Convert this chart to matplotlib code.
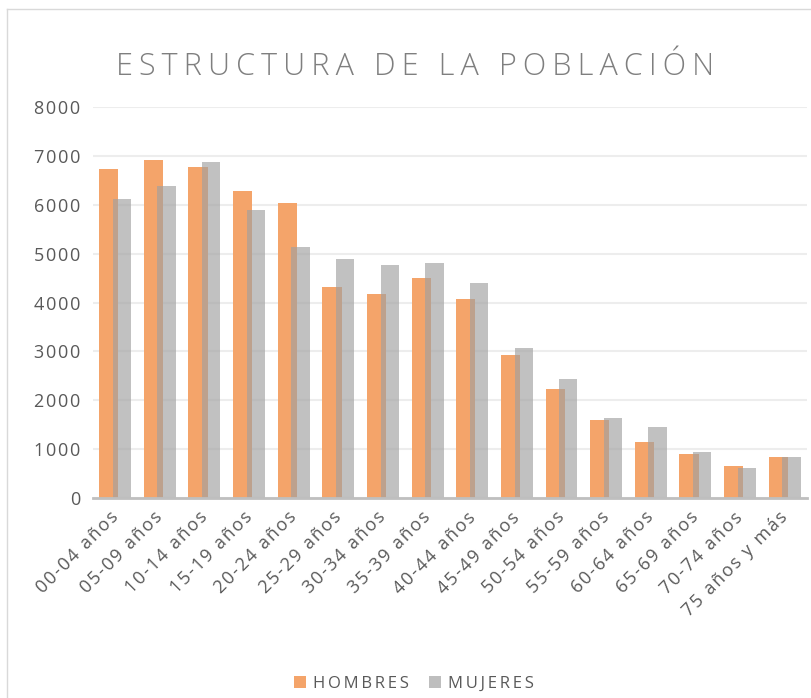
import numpy as np
import matplotlib
matplotlib.use("Agg")
import matplotlib.pyplot as plt
from matplotlib.patches import Patch

# datos
grupos = ["00-04 años", "05-09 años", "10-14 años", "15-19 años", "20-24 años",
          "25-29 años", "30-34 años", "35-39 años", "40-44 años", "45-49 años",
          "50-54 años", "55-59 años", "60-64 años", "65-69 años", "70-74 años",
          "75 años y más"]
hombres = [6735, 6918, 6776, 6286, 6041, 4315, 4172, 4499, 4070, 2924,
           2229, 1595, 1145, 900, 654, 838]
mujeres = [6122, 6388, 6878, 5898, 5133, 4888, 4765, 4806, 4397, 3067,
           2434, 1636, 1452, 941, 613, 838]
yticks = [0, 1000, 2000, 3000, 4000, 5000, 6000, 7000, 8000]
titulo = "ESTRUCTURA DE LA POBLACIÓN"

naranja = "#F4A46A"
gris = "#A0A0A0"
texto = "#595959"

plt.rcParams['font.family'] = ['Open Sans', 'DejaVu Sans']


def espaciado(s, sep="\u200a"):
    # imita el espaciado entre letras del original
    return sep.join(s)


fig = plt.figure(figsize=(8.12, 6.98), dpi=100)
ax = fig.add_axes([0.1145, 0.2865, 0.8795, 0.5602])

x = np.arange(len(grupos))
ax.bar(x - 0.145, hombres, width=0.43, color=naranja, zorder=2)
ax.bar(x + 0.15, mujeres, width=0.41, color=gris, alpha=0.65, zorder=3)

ax.set_xlim(-0.5, len(grupos) - 0.5)
ax.set_ylim(0, 8000)
ax.set_yticks(yticks)
ax.set_yticklabels([espaciado(str(v)) for v in yticks], fontsize=13, color=texto)
ax.set_xticks(x)
ax.set_xticklabels([espaciado(g) for g in grupos], rotation=45, ha="right",
                   va="center", rotation_mode="anchor", fontsize=13, color=texto)
ax.tick_params(axis="both", length=0)
ax.tick_params(axis="y", pad=9)
ax.tick_params(axis="x", pad=12)

ax.grid(axis="y", color="#EDEDED", linewidth=1.5, zorder=0)
for s in ["top", "right", "left"]:
    ax.spines[s].set_visible(False)
ax.spines["bottom"].set_color("#BFBFBF")
ax.spines["bottom"].set_linewidth(2)
ax.spines["bottom"].set_zorder(4)

fig.text(0.511, 1 - 75 / 698, espaciado(titulo, "\u2009"), ha="center", va="baseline",
         fontsize=22, color="#7F7F7F", fontweight="light")

# marco del área del gráfico
fig.add_artist(plt.Line2D([7 / 812, 7 / 812], [0, 1 - 9 / 698],
                          color="#D9D9D9", linewidth=1, transform=fig.transFigure))
fig.add_artist(plt.Line2D([7 / 812, 1], [1 - 9 / 698, 1 - 9 / 698],
                          color="#D9D9D9", linewidth=1, transform=fig.transFigure))

handles = [Patch(facecolor=naranja), Patch(facecolor="#BEBEBE")]
fig.legend(handles, [espaciado("HOMBRES", "\u2009"), espaciado("MUJERES", "\u2009")],
           loc="center", bbox_to_anchor=(0.51, 1 - 684 / 698), ncol=2, frameon=False,
           fontsize=12, labelcolor=texto, handlelength=0.7, handleheight=0.7,
           handletextpad=0.45, columnspacing=1.2)

fig.savefig("out.png", dpi=100, facecolor="white")
